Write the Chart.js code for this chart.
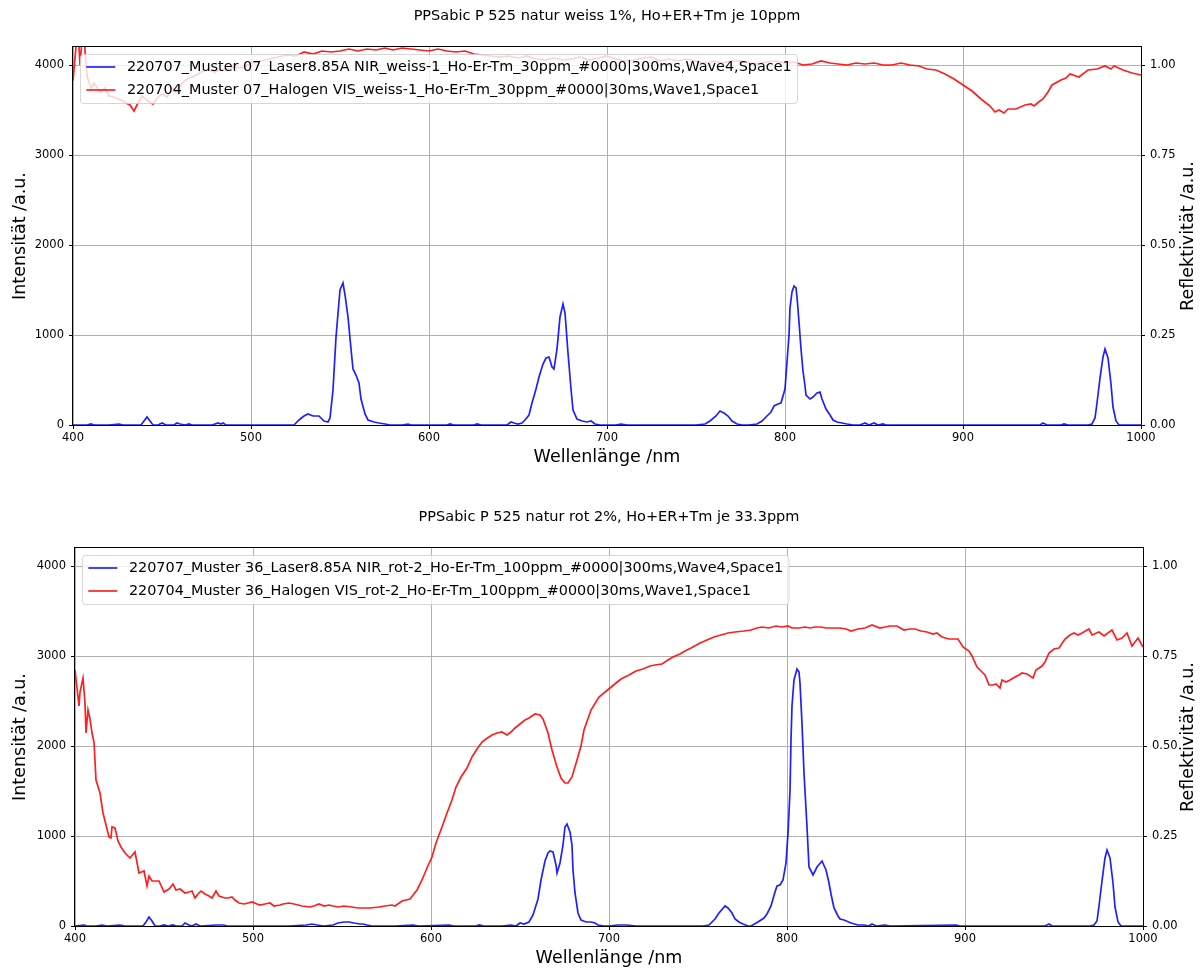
<!DOCTYPE html>
<html><head><meta charset="utf-8">
<script src="https://cdn.jsdelivr.net/npm/chart.js@4.4.0/dist/chart.umd.min.js"></script>
<style>
html,body{margin:0;padding:0;background:#fff;overflow:hidden;width:1204px;height:970px}
.w{position:absolute;left:0;width:1204px;height:485px}
canvas{display:block}
</style></head><body>
<div class="w" style="top:0"><canvas id="c1" width="1204" height="485"></canvas></div>
<div class="w" style="top:485px"><canvas id="c2" width="1204" height="485"></canvas></div>
<script>
// ---------- tick labels ----------
const wavelengthTicks = [400, 500, 600, 700, 800, 900, 1000];
const intensityTicks = [0, 1000, 2000, 3000, 4000];
const reflectivityTicks = [0, 0.25, 0.5, 0.75, 1.0];

// ---------- titles / labels ----------
const titles = ["PPSabic P 525 natur weiss 1%, Ho+ER+Tm je 10ppm", "PPSabic P 525 natur rot 2%, Ho+ER+Tm je 33.3ppm"];
const topLabels = ["220707_Muster 07_Laser8.85A NIR_weiss-1_Ho-Er-Tm_30ppm_#0000|300ms,Wave4,Space1",
                   "220704_Muster 07_Halogen VIS_weiss-1_Ho-Er-Tm_30ppm_#0000|30ms,Wave1,Space1"];
const botLabels = ["220707_Muster 36_Laser8.85A NIR_rot-2_Ho-Er-Tm_100ppm_#0000|300ms,Wave4,Space1",
                   "220704_Muster 36_Halogen VIS_rot-2_Ho-Er-Tm_100ppm_#0000|30ms,Wave1,Space1"];

// ---------- top plot: laser (intensity) ----------
const topLaserNm = [
400,405,408,410,412,420,426,428,438,440,
441.5,443,445,448,450,452,457,458.5,460,463,
465,467,478,480,481.5,483,484.5,486,520,524,
527,530,532,535,538,541,543,544.5,546,548,
550,551.5,553,554.5,556,557.5,559,560.5,562,564,
566,569,572,575,578,585,588,590,610,612,
614,625,627,629,640,644,646,648,650,652,
654,656,658,660,662,664,666,667.5,669,670.5,
672,673.5,675,676.5,678,679.5,681,683,686,689,
691,693,696,700,705,708,711,745,750,755,
758,761,763.5,766,768,770,773,776,780,784,
787,790,792,794,796,798,800,801,802,803,
804,805,806,807,808,809,810,811,812,814,
816,818,819.5,821,823,825,827,829,832,835,
838,842,845,847,850,852,855,857,900,943,
945,947,955,957,959,970,972.5,974,975.5,977,
978.5,980,981.5,983,984.5,986,987.5,990,1000];
const topLaserCounts = [
0,5,0,10,0,0,8,0,0,40,
90,50,0,0,20,0,0,25,10,0,
15,0,0,10,20,8,22,0,0,5,
55,100,125,105,100,50,30,80,390,980,
1500,1575,1450,1200,850,620,560,470,290,120,
60,35,20,10,0,0,8,0,0,10,
0,0,10,0,0,5,30,20,10,20,
60,110,250,400,530,680,750,760,650,620,
850,1200,1350,1250,800,400,170,70,40,35,
45,15,5,0,5,10,0,0,0,10,
50,100,160,135,95,40,15,5,0,15,
40,100,150,210,235,245,400,700,1000,1300,
1480,1550,1520,1420,1150,850,600,430,330,290,
310,360,370,290,180,110,60,35,25,15,
5,0,20,0,20,5,15,0,0,0,
22,0,0,8,0,0,10,80,250,520,
760,850,740,460,200,50,5,0,0];

// ---------- top plot: halogen (reflectivity) ----------
const topHalogenNm = [
400,401,402,403,404,405,406,407,408,410,
412,415,418,420,423,425,428,430,432,434,
436,439,442,445,448,450,453,456,458,461,
464,467,470,473,476,480,483,486,490,495,
500,505,510,515,520,525,530,535,540,545,
550,555,560,565,570,575,580,585,590,595,
600,605,610,615,620,625,630,635,640,645,
650,655,660,665,670,675,680,685,690,695,
700,705,710,715,720,725,730,735,740,745,
750,755,760,765,770,775,780,785,790,795,
800,805,810,815,820,825,830,835,840,845,
850,855,860,865,870,875,880,885,890,895,
900,905,910,915,918,920,923,925,930,935,
938,940,943,945,948,950,955,958,960,965,
970,975,980,983,985,990,995,1000];
const topHalogenRefl = [
0.955,1.02,1.08,1.10,1.00,1.07,1.12,1.04,0.97,0.935,
0.95,0.925,0.935,0.915,0.91,0.905,0.90,0.895,0.888,0.872,
0.89,0.915,0.90,0.893,0.91,0.92,0.912,0.935,0.925,0.95,
0.96,0.968,0.975,0.983,0.986,0.98,0.99,0.985,0.995,0.993,
1.005,1.01,1.018,1.022,1.028,1.026,1.035,1.03,1.04,1.035,
1.04,1.045,1.038,1.045,1.043,1.048,1.042,1.048,1.045,1.043,
1.038,1.045,1.04,1.036,1.038,1.03,1.028,1.026,1.022,1.025,
1.02,1.024,1.018,1.015,1.02,1.014,1.016,1.022,1.015,1.02,
1.024,1.016,1.01,1.014,1.02,1.022,1.012,1.016,1.01,1.016,
1.01,1.006,1.012,1.005,1.01,1.012,1.006,1.004,1.007,1.012,
1.005,1.007,1.0,1.004,1.01,1.006,1.004,1.0,1.006,1.004,
1.006,1.001,1.0,1.006,1.0,0.997,0.99,0.986,0.975,0.962,
0.945,0.928,0.905,0.885,0.87,0.876,0.868,0.878,0.878,0.888,
0.892,0.886,0.90,0.905,0.925,0.945,0.958,0.965,0.975,0.968,
0.985,0.99,0.996,0.988,0.998,0.985,0.978,0.972];

// ---------- bottom plot: laser (intensity) ----------
const botLaserNm = [
400,405,407,412,415,418,425,428,432,436,
438,440,441.5,443,445,448,450,452,455,457,
460,462,464,466,468,470,480,483,486,500,
520,530,533,536,540,545,548,551,554,557,
560,562,564,567,580,590,593,610,613,625,
627,630,640,645,648,650,652,655,657.5,660,
662,664,665.5,667,668.5,670,671,672.5,674,675.5,
676.5,678,679,680,681,682.5,684,687,690,692,
694,697,700,705,710,715,745,750,753,756,
759.5,762,765,767,769,771,773,775,778,780,
783.5,787,789,791,793,794.5,796,798,799.5,800.4,
801.5,802.3,803,804,805.6,806.5,807.4,808.5,809.7,811,
812.4,814.4,817,819.5,822,823.5,824.7,826.5,828.5,830,
832,836,840,843,846,848,850,855,858,895,
897,945,947,949,970,972.5,974,975.5,977,978.5,
980,981.5,983,984.5,986,987.5,990,1000];
const botLaserCounts = [
0,10,0,0,10,0,10,0,5,0,
0,50,95,55,0,0,15,0,10,0,
0,30,10,0,25,0,10,15,0,0,
0,10,25,15,0,15,35,45,40,30,
20,25,15,0,0,10,0,10,0,0,
10,0,0,15,5,35,20,50,120,300,
510,720,810,830,820,680,590,700,900,1100,
1135,1050,900,620,370,150,70,40,50,35,
10,5,0,10,15,0,0,5,0,10,
80,150,220,195,140,80,40,20,5,0,
45,90,130,220,380,440,455,510,700,1030,
1500,2070,2450,2730,2860,2820,2700,2250,1700,1100,
660,570,660,720,620,480,360,200,110,80,
70,30,15,10,0,20,0,10,0,10,
0,0,20,0,0,10,60,220,500,760,
840,760,480,210,50,5,0,0];

// ---------- bottom plot: halogen (reflectivity) ----------
const botHalogenNm = [
400,401,402,403,404.5,405.5,406.3,407.5,408.5,409.6,
410.5,412,414,416,418,419,420,421,422.5,424,
426,428,431,433.5,436,438.5,440.5,441.8,443,445,
447,449.8,452.6,455,457,459,462,464,466,467.6,
469,471,473,475,477,479,481,484,486,488,
490,492,494.7,497,499.4,502,504,507,509.6,512,
515,517,520,523,527.5,532,534.5,537,540,542.5,
545,548,551,555.6,559,563,566,570.6,574,578,
580,583.7,588,592,595,598,600.6,603,606,609,
611.8,614,617,620,623,626,628.7,631,634,637,
640,642.7,645,647,650,652.8,655,658.4,661,663,
666,668,670.8,673,675.4,677,679,682,684,686,
690,694.5,700.6,704,707,711,715,719,723,726,
730,733,736,740,742.6,746,751,755,759,763,
767,771,776,780,783,786,790,794,797,800.5,
803,806.7,810,813,816,819,822,825,829.7,833,
836,840,844,848,852,855,858,862,866,869,
872,875,878.6,882,884,887,891,896,899,902,
904,907,909,911,913.3,916,917.5,919.5,921,923,
925,928,930.6,932,935,938,940,943,945,947.4,
950,953,956,959,961,963.5,966,969.6,971.6,975,
978,982.6,985.6,988,991,994,997,1000];
const botHalogenRefl = [
0.71,0.66,0.61,0.65,0.69,0.62,0.535,0.60,0.575,0.535,
0.51,0.405,0.37,0.315,0.27,0.248,0.245,0.275,0.272,0.235,
0.22,0.203,0.19,0.206,0.148,0.152,0.11,0.14,0.125,0.125,
0.126,0.095,0.104,0.117,0.10,0.104,0.092,0.095,0.097,0.078,
0.09,0.097,0.088,0.083,0.077,0.097,0.083,0.078,0.077,0.08,
0.072,0.064,0.06,0.063,0.066,0.061,0.058,0.06,0.065,0.056,
0.058,0.061,0.064,0.06,0.056,0.052,0.056,0.06,0.056,0.058,
0.055,0.053,0.055,0.052,0.051,0.049,0.05,0.054,0.056,0.058,
0.056,0.069,0.074,0.1,0.128,0.16,0.192,0.23,0.276,0.315,
0.35,0.385,0.415,0.44,0.47,0.492,0.511,0.52,0.53,0.535,
0.54,0.53,0.54,0.55,0.562,0.572,0.578,0.589,0.587,0.575,
0.536,0.49,0.443,0.41,0.397,0.398,0.414,0.461,0.50,0.544,
0.60,0.637,0.661,0.674,0.686,0.697,0.709,0.714,0.722,0.725,
0.727,0.738,0.747,0.755,0.765,0.772,0.786,0.795,0.804,0.808,
0.813,0.817,0.82,0.822,0.827,0.83,0.829,0.833,0.831,0.832,
0.828,0.828,0.83,0.827,0.83,0.83,0.828,0.829,0.828,0.824,
0.819,0.825,0.828,0.836,0.828,0.83,0.833,0.832,0.822,0.824,
0.825,0.82,0.817,0.81,0.813,0.803,0.798,0.797,0.776,0.764,
0.75,0.72,0.708,0.697,0.669,0.669,0.672,0.661,0.683,0.678,
0.684,0.692,0.697,0.704,0.70,0.69,0.711,0.722,0.734,0.759,
0.77,0.772,0.797,0.809,0.813,0.808,0.815,0.824,0.809,0.817,
0.805,0.822,0.794,0.80,0.815,0.778,0.80,0.776];

// ---------- rendering ----------
const BLUE = 'rgba(0,0,255,0.88)';
const RED = 'rgba(255,0,0,0.88)';
const FONT = '"DejaVu Sans", sans-serif';
Chart.defaults.font.family = FONT;
Chart.defaults.color = '#000';

function pts(xs, ys) {
  const n = Math.min(xs.length, ys.length);
  const out = [];
  for (let i = 0; i < n; i++) out.push({x: xs[i], y: ys[i]});
  return out;
}

function rr(ctx, x, y, w, h, r) {
  ctx.beginPath();
  ctx.moveTo(x + r, y);
  ctx.lineTo(x + w - r, y); ctx.arcTo(x + w, y, x + w, y + r, r);
  ctx.lineTo(x + w, y + h - r); ctx.arcTo(x + w, y + h, x + w - r, y + h, r);
  ctx.lineTo(x + r, y + h); ctx.arcTo(x, y + h, x, y + h - r, r);
  ctx.lineTo(x, y + r); ctx.arcTo(x, y, x + r, y, r);
  ctx.closePath();
}

function makeChart(id, g) {
  const deco = {
    id: 'deco',
    afterDatasetsDraw(chart) {
      const ctx = chart.ctx, a = chart.chartArea;
      ctx.save();
      // frame (spines)
      ctx.strokeStyle = '#000'; ctx.lineWidth = 1;
      ctx.strokeRect(Math.round(a.left) - 0.5, Math.round(a.top) - 0.5,
                     Math.round(a.right - a.left) + 1, Math.round(a.bottom - a.top) + 1);
      // legend
      ctx.font = '14.4px ' + FONT;
      const pad = 5.8, hl = 29, gap = 11.6;
      const tw = Math.max(...g.labels.map(t => ctx.measureText(t).width));
      const bx = a.left + 7.5, by = a.top + 7.5, bw = pad + hl + gap + tw + pad, bh = 49;
      rr(ctx, bx, by, bw, bh, 3);
      ctx.fillStyle = 'rgba(255,255,255,0.8)'; ctx.fill();
      ctx.strokeStyle = 'rgba(204,204,204,0.8)'; ctx.lineWidth = 1; ctx.stroke();
      const cols = [BLUE, RED];
      g.labels.forEach((t, i) => {
        const y = by + 12.5 + i * 23;
        ctx.strokeStyle = cols[i]; ctx.lineWidth = 1.7;
        ctx.beginPath(); ctx.moveTo(bx + pad, y); ctx.lineTo(bx + pad + hl, y); ctx.stroke();
        ctx.fillStyle = '#000'; ctx.textAlign = 'left'; ctx.textBaseline = 'middle';
        ctx.fillText(t, bx + pad + hl + gap, y);
      });
      // title
      ctx.font = '14.5px ' + FONT;
      ctx.textAlign = 'center'; ctx.textBaseline = 'middle'; ctx.fillStyle = '#000';
      ctx.fillText(g.title, (a.left + a.right) / 2, g.titleY);
      // right axis title (reads bottom to top)
      ctx.font = '17.5px ' + FONT;
      ctx.translate(g.rTitleX, (a.top + a.bottom) / 2);
      ctx.rotate(-Math.PI / 2);
      ctx.fillText('Reflektivität /a.u.', 0, 0);
      ctx.restore();
    }
  };
  const gridCommon = {color: '#b0b0b0', lineWidth: 1, drawTicks: true, tickColor: '#000', tickLength: 4, tickWidth: 1};
  const tickFont = {family: FONT, size: 11.5};
  return new Chart(document.getElementById(id), {
    type: 'line',
    data: {
      datasets: [
        {label: g.labels[0], data: pts(g.laserNm, g.laserCounts), yAxisID: 'y', borderColor: BLUE,
         borderWidth: 1.7, pointRadius: 0, tension: 0, order: 1, clip: 3},
        {label: g.labels[1], data: pts(g.halNm, g.halRefl), yAxisID: 'y1', borderColor: RED,
         borderWidth: 1.7, pointRadius: 0, tension: 0, order: 0}
      ]
    },
    options: {
      responsive: false, animation: false, events: [],
      layout: {padding: {top: g.top, left: 0, right: 0, bottom: 0}},
      plugins: {legend: {display: false}, tooltip: {enabled: false}, title: {display: false}},
      scales: {
        x: {
          type: 'linear', position: 'bottom', min: 400, max: 1000, alignToPixels: true,
          afterBuildTicks: s => { s.ticks = wavelengthTicks.map(v => ({value: v})); },
          afterFit: s => { s.height = g.xH; },
          grid: gridCommon, border: {display: false},
          ticks: {font: tickFont, color: '#000', padding: 2, maxRotation: 0, autoSkip: false, callback: v => String(v)},
          title: {display: true, text: 'Wellenlänge /nm', color: '#000', font: {family: FONT, size: 17.5},
                  padding: {top: 0, bottom: g.xTitlePad}}
        },
        y: {
          type: 'linear', position: 'left', min: 0, max: 4200, alignToPixels: true,
          afterBuildTicks: s => { s.ticks = intensityTicks.map(v => ({value: v})); },
          afterFit: s => { s.width = g.left; },
          grid: gridCommon, border: {display: false},
          ticks: {font: tickFont, color: '#000', padding: 5, callback: v => String(v)},
          title: {display: true, text: 'Intensität /a.u.', color: '#000', font: {family: FONT, size: 17.5},
                  padding: {top: 9.5, bottom: 0}}
        },
        y1: {
          type: 'linear', position: 'right', min: 0, max: 1.05, alignToPixels: true,
          afterBuildTicks: s => { s.ticks = reflectivityTicks.map(v => ({value: v})); },
          afterFit: s => { s.width = g.rightW; },
          grid: Object.assign({}, gridCommon, {drawOnChartArea: false}), border: {display: false},
          ticks: {font: tickFont, color: '#000', padding: 5, callback: v => Number(v).toFixed(2)},
          title: {display: false}
        }
      }
    },
    plugins: [deco]
  });
}

makeChart('c1', {
  title: titles[0], titleY: 16, labels: topLabels,
  laserNm: topLaserNm, laserCounts: topLaserCounts, halNm: topHalogenNm, halRefl: topHalogenRefl,
  top: 47, left: 73, rightW: 63, xH: 60, xTitlePad: 17.5, rTitleX: 1188
});
makeChart('c2', {
  title: titles[1], titleY: 32, labels: botLabels,
  laserNm: botLaserNm, laserCounts: botLaserCounts, halNm: botHalogenNm, halRefl: botHalogenRefl,
  top: 63, left: 75, rightW: 61, xH: 44, xTitlePad: 1.5, rTitleX: 1188
});
</script>
</body></html>
